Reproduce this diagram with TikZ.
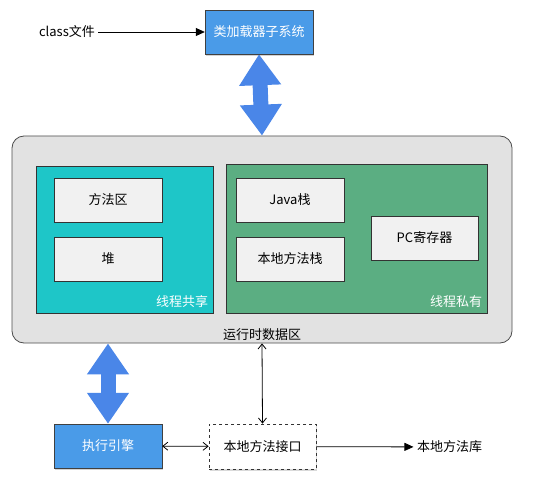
\documentclass[tikz,border=0pt]{standalone}
\usepackage{fontspec}
\setmainfont{Noto Sans CJK SC}
\usetikzlibrary{arrows.meta,shadows,positioning}
\definecolor{loaderblue}{HTML}{4A9BE8}
\definecolor{arrowblue}{HTML}{4A86E8}
\definecolor{sharedcyan}{HTML}{1EC6C8}
\definecolor{privgreen}{HTML}{5BAE82}
\definecolor{datagray}{HTML}{E2E2E2}
\definecolor{memgray}{HTML}{F1F1F1}
\tikzset{
    txt/.style={font=\fontsize{13}{15}\selectfont},
    bluebox/.style={txt, draw=black!75, fill=loaderblue, text=white,
        minimum width=108pt, minimum height=44pt,
        drop shadow={shadow xshift=1pt, shadow yshift=-2pt, opacity=0.35}},
    membox/.style={txt, draw=black!80, fill=memgray, minimum width=108pt, minimum height=44pt},
    areabox/.style={draw=black!80, inner sep=0pt},
    arealabel/.style={txt, text=white, anchor=south east, inner sep=5pt},
    bigarrow/.style={draw=arrowblue, line width=15pt,
        {Triangle[width=40pt,length=31pt]}-{Triangle[width=40pt,length=31pt]}},
    thin/.style={thick, {Straight Barb[length=5pt,width=8pt]}-{Straight Barb[length=5pt,width=8pt]}},
    flow/.style={thick, -{Triangle[length=9pt,width=8pt]}},
}
\begin{document}
\begin{tikzpicture}[x=1pt,y=-1pt]
\useasboundingbox (0,0) rectangle (537,489);

% loader
\node[bluebox] (loader) at (259,32) {类加载器子系统};
\node[txt] (classfile) at (67,32) {class文件};
\draw[flow] (classfile) -- (loader);

% runtime data area
\node[draw=black!70, thick, fill=datagray, rounded corners=12pt,
      minimum width=500pt, minimum height=207pt] (data) at (262,239.5) {};
\node[txt, anchor=south, inner sep=3pt] (datalabel) at (data.south) {运行时数据区};

\node[areabox, fill=sharedcyan, minimum width=177pt, minimum height=147pt] (shared) at (124.5,239.5) {};
\node[arealabel] (sharedlabel) at (shared.south east) {线程共享};
\node[areabox, fill=privgreen, minimum width=261pt, minimum height=149pt] (private) at (356.5,238.5) {};
\node[arealabel] (privatelabel) at (private.south east) {线程私有};

\node[membox] (method) at (108,200) {方法区};
\node[membox] (heap) at (108,259) {堆};
\node[membox] (javastack) at (290,200) {Java栈};
\node[membox] (nativestack) at (290,259) {本地方法栈};
\node[membox, minimum width=107pt] (pc) at (424.5,238) {PC寄存器};

\draw[bigarrow] (loader.south) -- (data.north);

% engine and native interface
\node[bluebox] (engine) at (108,446) {执行引擎};
\node[membox, fill=white, dashed, thick, minimum width=107pt, minimum height=45pt,
      drop shadow={shadow xshift=1pt, shadow yshift=-2pt, opacity=0.3}] (nativeif) at (262.5,446.5) {本地方法接口};
\node[txt] (nativelib) at (449.5,447) {本地方法库};

\draw[bigarrow] (engine.north |- data.south) -- (engine.north);
\draw[thin] (data.south) -- (nativeif.north);
\draw[thin] (engine) -- (nativeif);
\draw[flow] (nativeif) -- (nativelib);
\end{tikzpicture}
\end{document}
